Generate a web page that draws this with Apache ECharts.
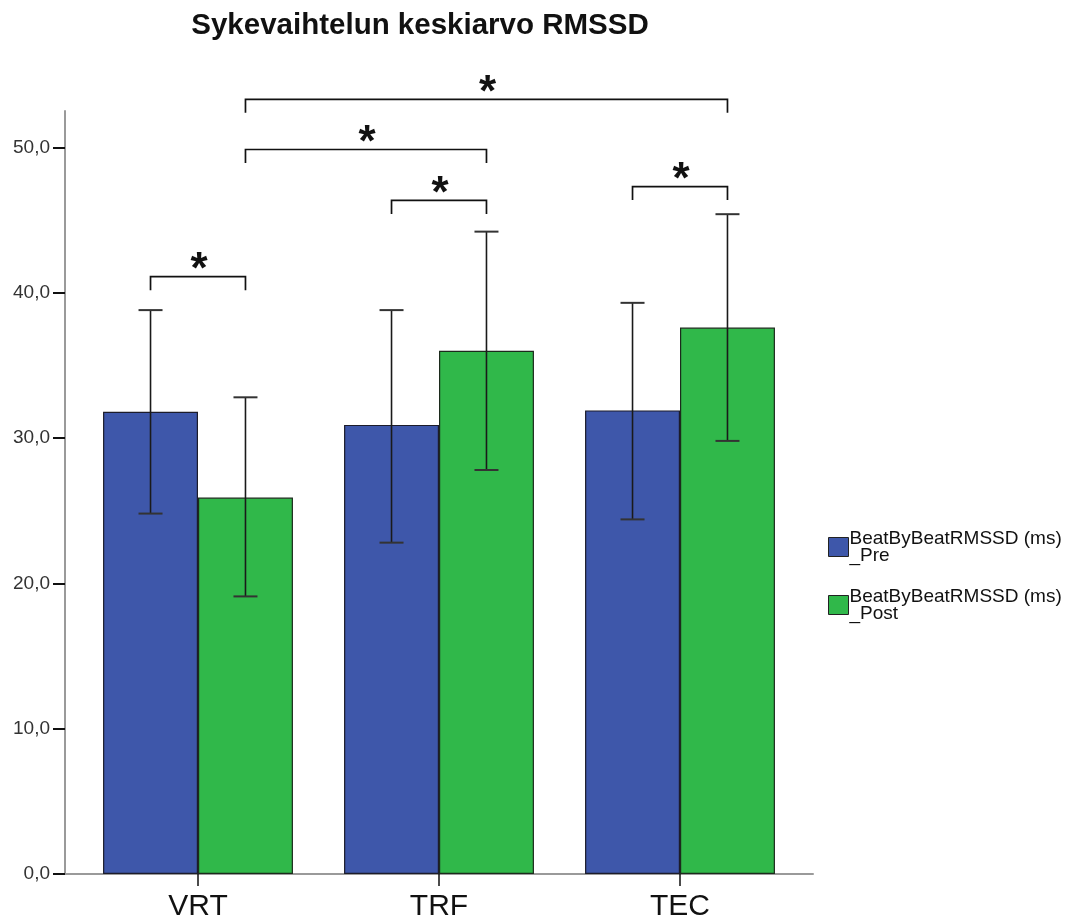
<!DOCTYPE html>
<html>
<head>
<meta charset="utf-8">
<script src="https://cdn.jsdelivr.net/npm/echarts@6/dist/echarts.min.js"></script>
<style>html,body{margin:0;padding:0;background:#fff}#c{width:1076px;height:919px}</style>
</head>
<body>
<div id="c"></div>
<script>
const categories = ['VRT', 'TRF', 'TEC'];
const preMean = [31.8, 30.9, 31.9];
const postMean = [25.9, 36.0, 37.6];
const preLow = [24.8, 22.8, 24.4];
const preHigh = [38.8, 38.8, 39.3];
const postLow = [19.1, 27.8, 29.8];
const postHigh = [32.8, 44.2, 45.4];
const yTicks = [0, 10, 20, 30, 40, 50];
const seriesNames = ['BeatByBeatRMSSD (ms)\n_Pre', 'BeatByBeatRMSSD (ms)\n_Post'];
// brackets: [fromCategory, fromSide(-1 pre, 1 post), toCategory, toSide, level]
const brackets = [
  [0, -1, 0, 1, 41.1],
  [1, -1, 1, 1, 46.35],
  [2, -1, 2, 1, 47.3],
  [0, 1, 1, 1, 49.85],
  [0, 1, 2, 1, 53.3]
];
const sigLabel = '*';

const FONT = 'Liberation Sans, Arial, sans-serif';
const BAR_FRAC = 0.394;
const YMAX = 52.5;

function errRender(sign) {
  return function (params, api) {
    const c = api.value(0);
    const lo = api.coord([c, api.value(1)]);
    const hi = api.coord([c, api.value(2)]);
    const band = api.size([1, 0])[0];
    const cx = lo[0] + sign * band * BAR_FRAC / 2;
    const cap = 12;
    const st = { stroke: '#1a1a1a', lineWidth: 1.6 };
    const cs = { stroke: '#333', lineWidth: 2 };
    return {
      type: 'group',
      children: [
        { type: 'line', shape: { x1: cx, y1: hi[1], x2: cx, y2: lo[1] }, style: st },
        { type: 'line', shape: { x1: cx - cap, y1: hi[1], x2: cx + cap, y2: hi[1] }, style: cs },
        { type: 'line', shape: { x1: cx - cap, y1: lo[1], x2: cx + cap, y2: lo[1] }, style: cs }
      ]
    };
  };
}

function bracketRender(params, api) {
  const band = api.size([1, 0])[0];
  const off = band * BAR_FRAC / 2;
  const p1 = api.coord([api.value(0), api.value(4)]);
  const p2 = api.coord([api.value(2), api.value(4)]);
  const x1 = p1[0] + api.value(1) * off;
  const x2 = p2[0] + api.value(3) * off;
  const y = p1[1];
  const drop = 13.5;
  const st = { stroke: '#111', lineWidth: 1.7, fill: null };
  return {
    type: 'group',
    children: [
      { type: 'polyline', shape: { points: [[x1, y + drop], [x1, y], [x2, y], [x2, y + drop]] }, style: st },
      { type: 'text', style: { text: sigLabel, x: (x1 + x2) / 2 + 1, y: y - 6, fontSize: 44, fontWeight: 'bold', fontFamily: FONT, fill: '#111', align: 'center', verticalAlign: 'middle' } }
    ]
  };
}

const chart = echarts.init(document.getElementById('c'));
chart.setOption({
  animation: false,
  backgroundColor: '#fff',
  title: {
    text: 'Sykevaihtelun keskiarvo RMSSD',
    left: 415, top: 6, textAlign: 'center',
    textStyle: { fontFamily: FONT, fontSize: 29.5, fontWeight: 'bold', color: '#111' }
  },
  legend: {
    orient: 'vertical', left: 823, top: 524,
    itemWidth: 20, itemHeight: 19, itemGap: 22,
    icon: 'rect',
    data: seriesNames,
    textStyle: { fontFamily: FONT, fontSize: 19, color: '#111', lineHeight: 17, padding: [0, 0, 0, -4] },
    itemStyle: { borderColor: '#222', borderWidth: 1 }
  },
  grid: [
    { left: 65, width: 748, top: 111, bottom: 45, containLabel: false, outerBoundsMode: 'none' },
    { left: 77.5, width: 723, top: 111, bottom: 45, containLabel: false, outerBoundsMode: 'none' }
  ],
  xAxis: [
    { type: 'value', gridIndex: 0, min: 0, max: 1, axisLine: { show: true, lineStyle: { color: '#9a9a9a', width: 2 } }, axisTick: { show: false }, axisLabel: { show: false }, splitLine: { show: false } },
    { type: 'category', gridIndex: 1, data: categories, axisLine: { show: false }, axisTick: { show: true, alignWithLabel: true, length: 12, lineStyle: { color: '#111', width: 1.5 } }, axisLabel: { fontFamily: FONT, fontSize: 30, color: '#111', margin: 18 } }
  ],
  yAxis: [
    { type: 'value', gridIndex: 0, min: 0, max: YMAX, axisLine: { show: true, lineStyle: { color: '#9a9a9a', width: 2 } },
      axisTick: { show: true, length: 12, customValues: yTicks, lineStyle: { color: '#111', width: 2 } },
      axisLabel: { customValues: yTicks, margin: 15, fontFamily: FONT, fontSize: 19, color: '#333', formatter: v => v.toFixed(1).replace('.', ',') },
      splitLine: { show: false } },
    { type: 'value', gridIndex: 1, min: 0, max: YMAX, show: false, splitLine: { show: false } }
  ],
  series: [
    { name: seriesNames[0], type: 'bar', xAxisIndex: 1, yAxisIndex: 1, data: preMean, barWidth: (BAR_FRAC * 100) + '%', barGap: '0%',
      itemStyle: { color: '#3e57aa', borderColor: '#1c1c2a', borderWidth: 1.2 } },
    { name: seriesNames[1], type: 'bar', xAxisIndex: 1, yAxisIndex: 1, data: postMean, barWidth: (BAR_FRAC * 100) + '%', barGap: '0%',
      itemStyle: { color: '#30b84a', borderColor: '#1c2a1c', borderWidth: 1.2 } },
    { type: 'custom', xAxisIndex: 1, yAxisIndex: 1, renderItem: errRender(-1), clip: false, z: 5,
      data: categories.map((c, i) => [i, preLow[i], preHigh[i]]) },
    { type: 'custom', xAxisIndex: 1, yAxisIndex: 1, renderItem: errRender(1), clip: false, z: 5,
      data: categories.map((c, i) => [i, postLow[i], postHigh[i]]) },
    { type: 'custom', xAxisIndex: 1, yAxisIndex: 1, renderItem: bracketRender, clip: false, z: 5,
      data: brackets }
  ]
});
</script>
</body>
</html>
